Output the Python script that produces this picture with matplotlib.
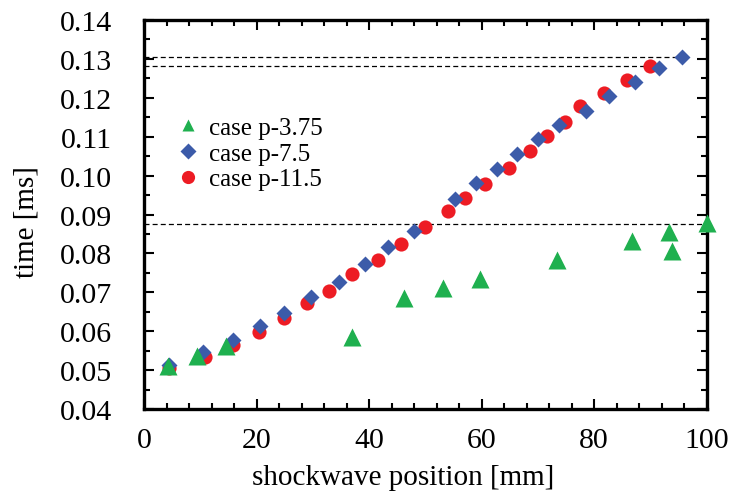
import matplotlib
matplotlib.use("Agg")
import matplotlib.pyplot as plt
from matplotlib.lines import Line2D
from matplotlib.ticker import MultipleLocator

# case p-3.75 (green triangles)
x_p375 = [4.3, 9.5, 14.6, 37.0, 46.2, 53.1, 59.7, 73.5, 86.8, 93.4, 93.8, 100.0]
t_p375 = [0.0511, 0.0537, 0.0563, 0.0586, 0.0685, 0.0710, 0.0734, 0.0783,
          0.0831, 0.0854, 0.0807, 0.0878]

# case p-7.5 (blue diamonds)
x_p75 = [4.5, 10.5, 15.8, 20.6, 24.8, 29.6, 34.6, 39.3, 43.4, 48.0, 55.3,
         59.1, 62.8, 66.3, 70.1, 73.8, 78.6, 82.7, 87.3, 91.5, 95.6]
t_p75 = [0.0514, 0.0546, 0.0578, 0.0613, 0.0647, 0.0689, 0.0727, 0.0773,
         0.0816, 0.0857, 0.0940, 0.0980, 0.1016, 0.1055, 0.1094, 0.1131,
         0.1167, 0.1204, 0.1241, 0.1276, 0.1306]

# case p-11.5 (red circles)
x_p115 = [4.5, 10.8, 15.9, 20.4, 24.9, 29.0, 32.8, 37.0, 41.6, 45.7, 50.0,
          54.0, 57.0, 60.6, 64.8, 68.6, 71.6, 74.9, 77.5, 81.7, 85.8, 90.0]
t_p115 = [0.0505, 0.0534, 0.0565, 0.0599, 0.0633, 0.0672, 0.0704, 0.0747,
          0.0784, 0.0824, 0.0868, 0.0909, 0.0943, 0.0978, 0.1020, 0.1062,
          0.1101, 0.1139, 0.1178, 0.1212, 0.1247, 0.1281]

# reference (dashed) levels and their right ends
ref_t = [0.1306, 0.1281, 0.0876]
ref_xend = [95.6, 90.0, 100.0]

labels = ["case p-3.75", "case p-7.5", "case p-11.5"]

GREEN = "#1fb04f"
BLUE = "#3c5ba9"
RED = "#ed1c24"

plt.rcParams["font.family"] = ["Liberation Serif", "DejaVu Serif"]

fig = plt.figure(figsize=(7.29, 5.02), dpi=100)
ax = fig.add_axes([144 / 729, 92 / 502, 562.5 / 729, 389 / 502])

for t, xe in zip(ref_t, ref_xend):
    ax.hlines(t, 0, xe, colors="black", linestyles=(0, (4, 2.5)), linewidth=0.9, zorder=1)

ax.plot(x_p115, t_p115, "o", color=RED, ms=10.2, mec="none", clip_on=False, zorder=3)
ax.plot(x_p75, t_p75, "D", color=BLUE, ms=7.8, mec="none", clip_on=False, zorder=4)
ax.plot(x_p375, t_p375, "^", color=GREEN, ms=13, mec="none", clip_on=False, zorder=5)

ax.set_xlim(0, 100)
ax.set_ylim(0.04, 0.14)
ax.xaxis.set_major_locator(MultipleLocator(20))
ax.xaxis.set_minor_locator(MultipleLocator(4))
ax.yaxis.set_minor_locator(MultipleLocator(0.005))
ax.set_yticks([0.04 + 0.01 * i for i in range(11)])
ax.set_yticklabels([f"{0.04 + 0.01 * i:.2f}" for i in range(11)])

ax.tick_params(which="both", direction="in", top=True, right=True, width=1.5)
ax.tick_params(which="major", length=7)
ax.tick_params(which="minor", length=4.5)
ax.tick_params(axis="x", which="major", labelsize=21.5, pad=13)
ax.tick_params(axis="y", which="major", labelsize=21.5, pad=23)
for s in ax.spines.values():
    s.set_linewidth(2.4)

ax.set_xlabel("shockwave position [mm]", fontsize=21)
ax.set_ylabel("time [ms]", fontsize=21)
ax.xaxis.set_label_coords((403 - 144) / 562.5, -0.142)
ax.yaxis.set_label_coords(-0.186, 0.483)

handles = [
    Line2D([], [], ls="none", marker="^", color=GREEN, ms=8.5, mec="none"),
    Line2D([], [], ls="none", marker="D", color=BLUE, ms=8.3, mec="none"),
    Line2D([], [], ls="none", marker="o", color=RED, ms=9.5, mec="none"),
]
ax.legend(handles=handles, labels=labels, loc="upper left",
          bbox_to_anchor=((178 - 144) / 562.5, (410 - 117.5) / 389),
          frameon=False, fontsize=18, handlelength=0.8, handletextpad=0.45,
          labelspacing=0.13, borderpad=0, borderaxespad=0)

fig.savefig("out.png", dpi=100)
